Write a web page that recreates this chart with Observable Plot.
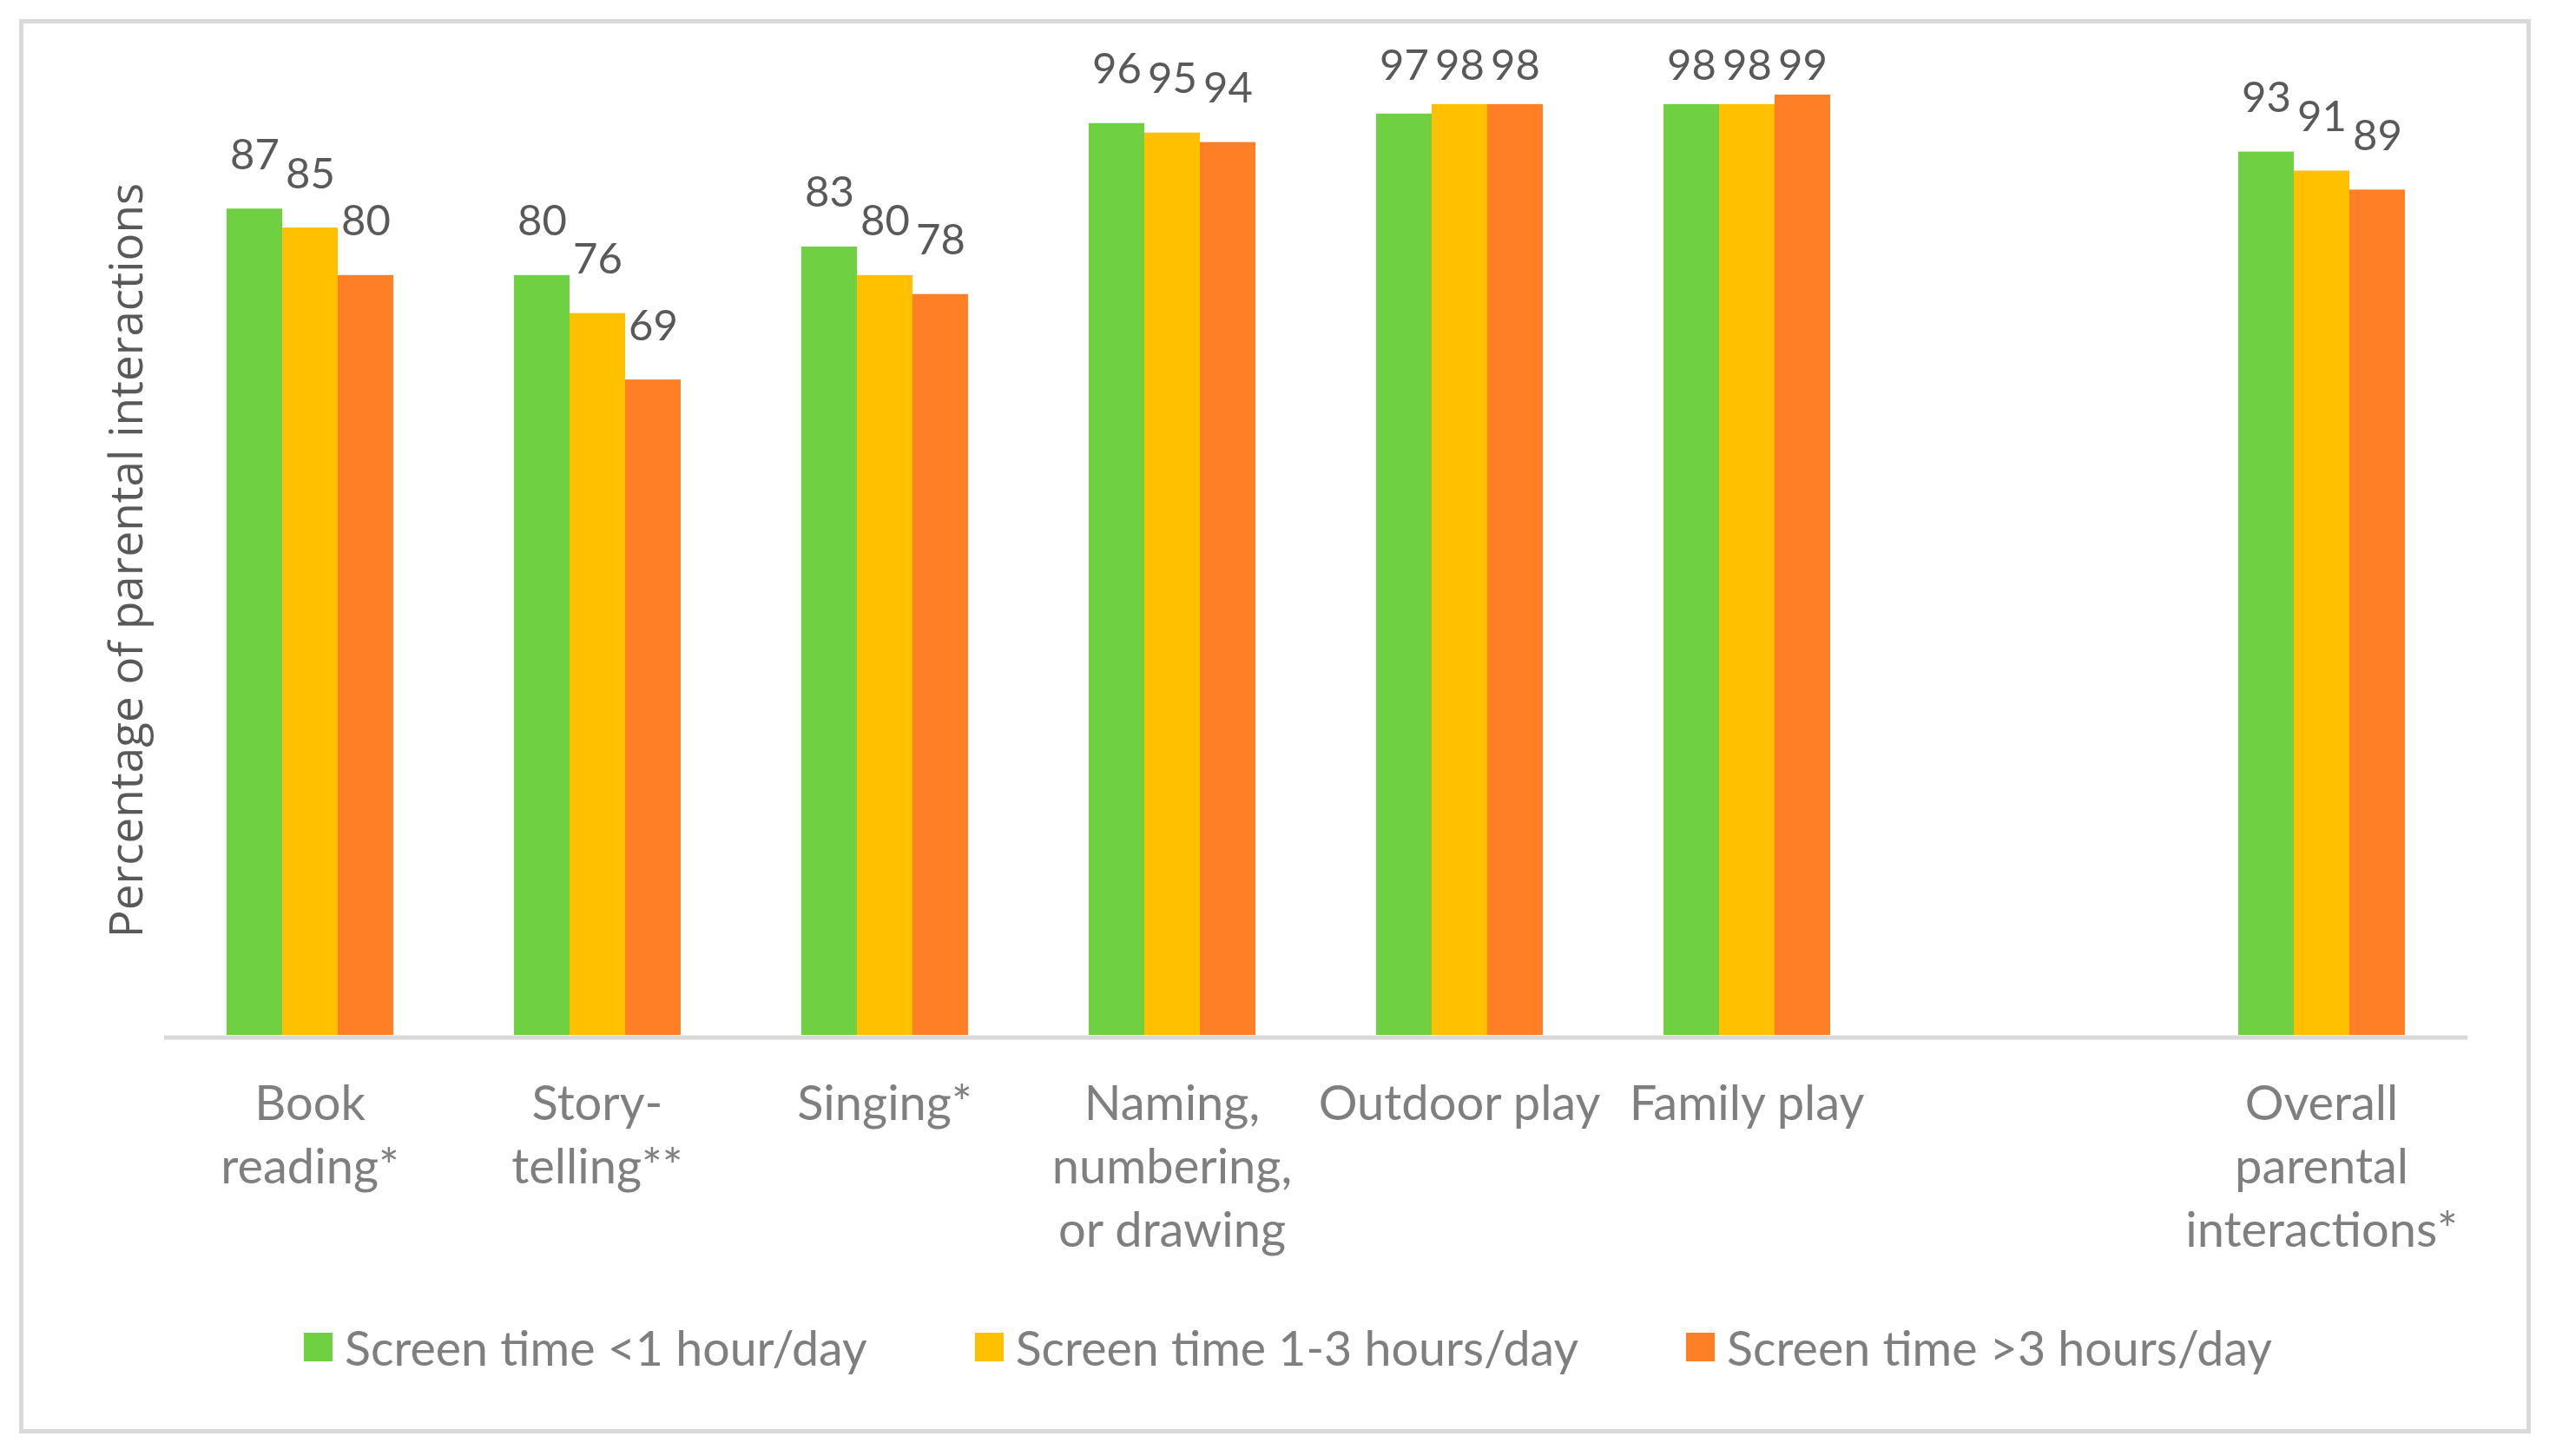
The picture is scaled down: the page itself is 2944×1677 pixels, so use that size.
<!DOCTYPE html>
<html>
<head>
<meta charset="utf-8">
<script src="https://cdn.jsdelivr.net/npm/d3@7"></script>
<script src="https://cdn.jsdelivr.net/npm/@observablehq/plot@0.6"></script>
<style>
  html, body { margin: 0; padding: 0; background: #fff; }
  #wrap { position: relative; width: 2944px; height: 1677px; background: #fff; overflow: hidden; }
  #frame { position: absolute; left: 22px; top: 22px; width: 2893px; height: 1629px; box-sizing: border-box; border: 5px solid #d9d9d9; }
  #chart { position: absolute; left: 0; top: 0; }
  #legend { position: absolute; left: 350px; top: 1523px; height: 56px; display: flex; align-items: center; gap: 124px;
            font-family: Lato, sans-serif; font-size: 55.5px; color: #7f7f7f; white-space: nowrap; }
  .item { display: flex; align-items: center; }
  .swatch { width: 33px; height: 33px; margin-right: 14px; }
</style>
</head>
<body>
<div id="wrap">
  <div id="frame"></div>
  <div id="chart"></div>
  <div id="legend"></div>
</div>
<script>
// ---- data ----
const categories = ["Book reading*", "Story-telling**", "Singing*", "Naming, numbering, or drawing", "Outdoor play", "Family play", "", "Overall parental interactions*"];
const tickLabels = ["Book\nreading*", "Story-\ntelling**", "Singing*", "Naming,\nnumbering,\nor drawing", "Outdoor play", "Family play", "", "Overall\nparental\ninteractions*"];
const series = ["Screen time <1 hour/day", "Screen time 1-3 hours/day", "Screen time >3 hours/day"];
const lessThan1 = [87, 80, 83, 96, 97, 98, null, 93];
const oneTo3 = [85, 76, 80, 95, 98, 98, null, 91];
const moreThan3 = [80, 69, 78, 94, 98, 99, null, 89];
const colors = ["#6fd041", "#ffc000", "#ff7f27"];
const yTitle = "Percentage of parental interactions";
// data labels near the top are held inside the plot area (as in the original)
const labelCeiling = 96.4;

const seriesValues = [lessThan1, oneTo3, moreThan3];
const data = [];
categories.forEach((c, i) => {
  seriesValues.forEach((vals, j) => {
    if (vals[i] != null) data.push({category: c, series: series[j], value: vals[i]});
  });
});

const W = 2944, H = 1480;
const mL = 191, mR = 105, mT = 98, mB = 288;
const padInner = 0.417, padOuter = padInner / 2;
const step = (W - mL - mR) / categories.length;
const outer = padOuter * step;

const chart = Plot.plot({
  width: W,
  height: H,
  marginLeft: mL,
  marginRight: mR,
  marginTop: mT,
  marginBottom: mB,
  style: {fontFamily: "Lato, sans-serif", color: "#7f7f7f", background: "transparent"},
  fx: {domain: categories, paddingInner: padInner, paddingOuter: padOuter, label: null},
  x: {domain: series, padding: 0, axis: null},
  y: {domain: [0, 100], axis: null},
  color: {domain: series, range: colors},
  marks: [
    Plot.frame({facet: "super", anchor: "bottom", stroke: "#d9d9d9", strokeWidth: 5, dy: 2.5,
      insetLeft: -outer, insetRight: -outer}),
    Plot.barY(data, {fx: "category", x: "series", y: "value", fill: "series"}),
    Plot.text(data, {fx: "category", x: "series", y: d => Math.min(d.value, labelCeiling), text: d => String(d.value),
      lineAnchor: "bottom", dy: -46, fontSize: 49, fill: "#595959"}),
    Plot.axisFx({anchor: "bottom", tickSize: 0, tickPadding: 46, fontSize: 56, lineHeight: 1.3, label: null,
      tickFormat: k => tickLabels[categories.indexOf(k)], fill: "#7f7f7f"}),
    Plot.text([yTitle], {facet: "super", frameAnchor: "left", rotate: -90, dx: -27 - outer,
      textAnchor: "middle", lineAnchor: "bottom", fontSize: 53, fontFamily: "Open Sans", fill: "#595959"})
  ]
});
document.getElementById("chart").appendChild(chart);

const legend = document.getElementById("legend");
series.forEach((s, j) => {
  const item = document.createElement("div");
  item.className = "item";
  const sw = document.createElement("div");
  sw.className = "swatch";
  sw.style.background = colors[j];
  const lab = document.createElement("span");
  lab.textContent = s;
  item.appendChild(sw);
  item.appendChild(lab);
  legend.appendChild(item);
});
</script>
</body>
</html>
